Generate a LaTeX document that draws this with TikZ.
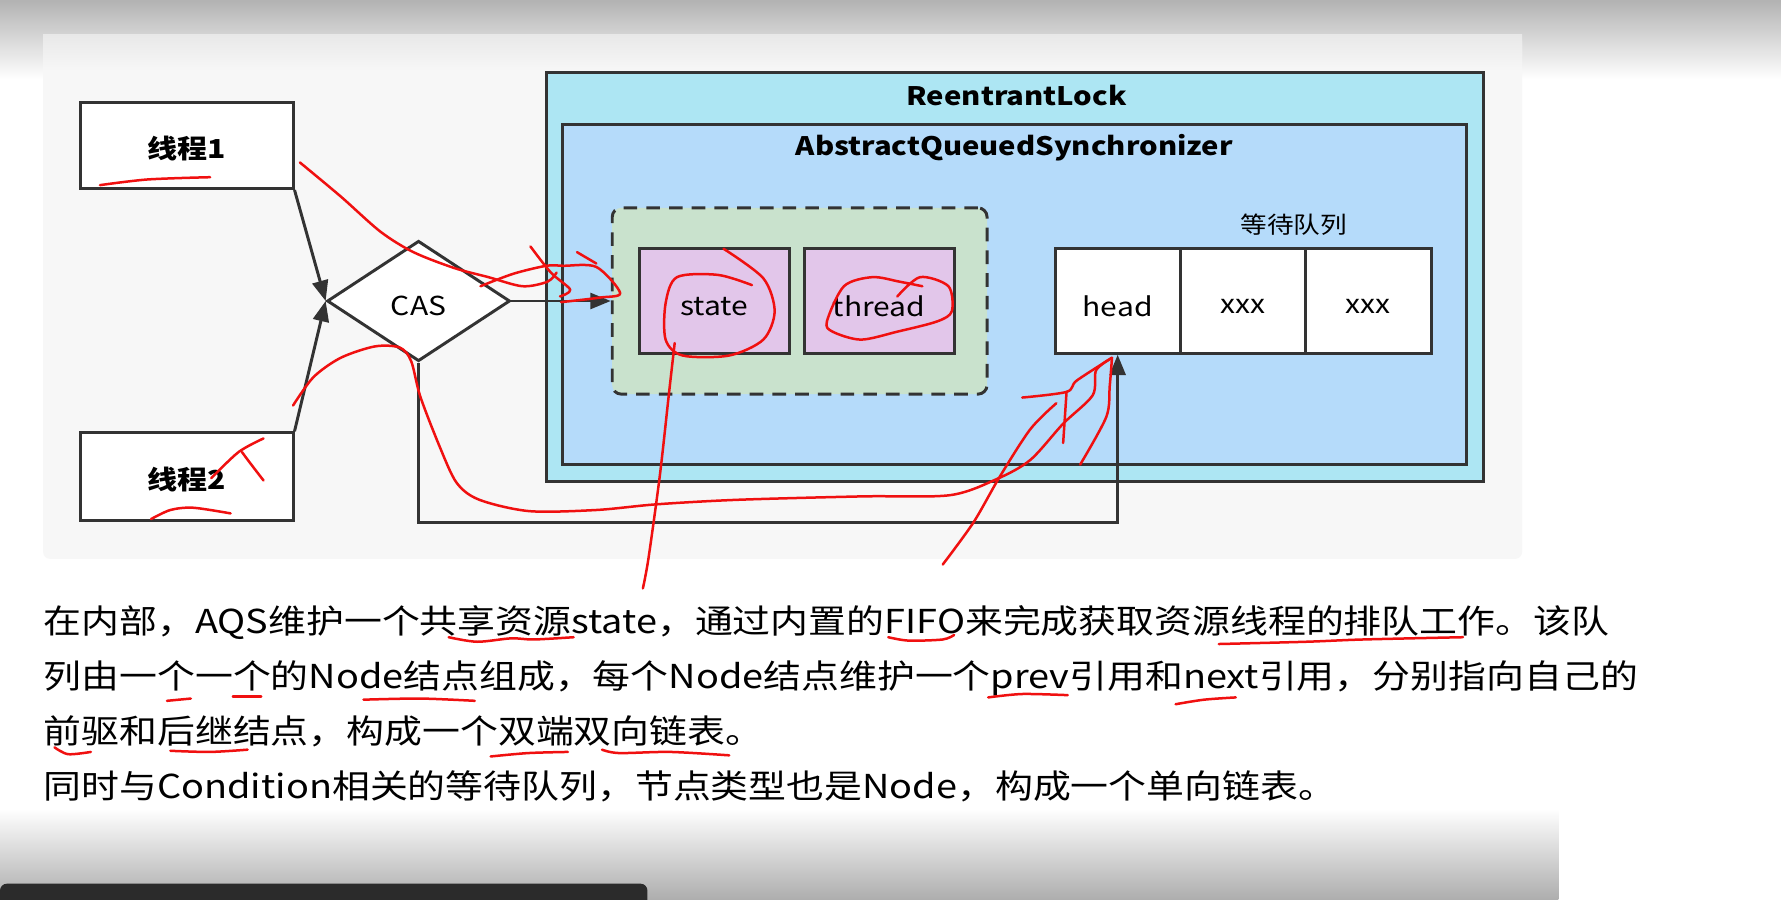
\documentclass[tikz,border=0pt]{standalone}
\usepackage{fontspec}
\setmainfont{Noto Sans CJK SC}[FakeStretch=1.15]
\usetikzlibrary{arrows.meta,shapes.geometric}
\definecolor{lineC}{HTML}{333333}
\definecolor{panelC}{HTML}{F7F7F7}
\definecolor{rlC}{HTML}{ADE6F3}
\definecolor{aqsC}{HTML}{B5DBFA}
\definecolor{grnC}{HTML}{C9E2CD}
\definecolor{purC}{HTML}{E2C6EA}
\definecolor{penC}{HTML}{F01010}
\definecolor{barC}{HTML}{2B2B2B}
\newcommand\fTitle{\bfseries\fontsize{11.2}{13}\selectfont}
\newcommand\fThr{\bfseries\fontsize{11.5}{14}\selectfont}
\newcommand\fLabel{\fontsize{11.5}{14}\selectfont}
\newcommand\fQ{\fontsize{10.2}{12}\selectfont}
\newcommand\fBody{\fontsize{14.5}{17}\selectfont}
\newcommand\lw[2]{\raisebox{-#1}[\height][\depth]{#2}}
\tikzset{
  boxline/.style={draw=lineC, line width=1.3pt},
  whitebox/.style={boxline, fill=white, inner sep=0pt},
  conn/.style={draw=lineC, line width=1.3pt, -{Triangle[length=9pt,width=7pt]}},
  redpen/.style={draw=penC, line width=1.1pt, line cap=round, line join=round},
  bodyline/.style={anchor=base west, inner sep=0pt, font=\fBody, text=black}
}
\begin{document}
\begin{tikzpicture}[x=0.5pt,y=-0.5pt]
\useasboundingbox (0,0) rectangle (1568,792);
\fill[white] (0,0) rectangle (1568,792);
\shade[top color=black!30, bottom color=white] (0,0) rectangle (1568,70);
\fill[panelC, rounded corners=3pt] (38,30) rectangle (1340,492);
\shade[top color=white!91!black, bottom color=panelC] (38,30) rectangle (1340,62);
\shade[top color=white, bottom color=black!32] (0,712) rectangle (1372,792);
\fill[barC, rounded corners=3pt] (0,778) rectangle (570,800);

% containers
\node[boxline, fill=rlC, minimum width=412.5pt, minimum height=180pt, inner sep=0pt] (rl) at (893.5,244) {};
\node[font=\fTitle] (rlt) at (895,84) {ReentrantLock};
\node[boxline, fill=aqsC, minimum width=398pt, minimum height=149.5pt, inner sep=0pt] (aqs) at (893,259.5) {};
\node[font=\fTitle] (aqst) at (893,130) {AbstractQueuedSynchronizer};
\node[boxline, dashed, dash pattern=on 6pt off 4pt, fill=grnC, rounded corners=4pt, minimum width=165pt, minimum height=82pt, inner sep=0pt] (grp) at (704,265) {};
\node[boxline, fill=purC, minimum width=66pt, minimum height=46pt, inner sep=0pt, font=\fLabel] (state) at (629,265) {\lw{2.5pt}{state}};
\node[boxline, fill=purC, minimum width=66pt, minimum height=46pt, inner sep=0pt, font=\fLabel] (thread) at (774,265) {\lw{2.5pt}{thread}};
\node[font=\fQ] (ql) at (1139,198) {等待队列};
\node[whitebox, minimum width=55pt, minimum height=46pt, font=\fLabel] (head) at (984,265) {\lw{2.5pt}{head}};
\node[whitebox, minimum width=55pt, minimum height=46pt, font=\fLabel] (x1) at (1094,265) {\lw{2.5pt}{xxx}};
\node[whitebox, minimum width=55.5pt, minimum height=46pt, font=\fLabel] (x2) at (1204.5,265) {\lw{2.5pt}{xxx}};

% threads and CAS
\node[whitebox, minimum width=93.5pt, minimum height=38pt, font=\fThr] (t1) at (164.5,128) {\lw{1.5pt}{线程1}};
\node[whitebox, minimum width=93.5pt, minimum height=38.5pt, font=\fThr] (t2) at (164.5,419.5) {\lw{1.5pt}{线程2}};
\node[diamond, aspect=1.5, boxline, fill=white, minimum width=80.5pt, minimum height=53pt, inner sep=0pt, font=\fLabel] (cas) at (368.5,265) {\lw{2pt}{CAS}};

\draw[conn] (t1.south east) -- (cas.west);
\draw[conn] (t2.north east) -- (cas.west);
\draw[conn] (cas.east) -- (grp.west);
\coordinate (bend) at (368.5,460);
\draw[conn] (cas.south) -- (bend) -| (head.south);

% text
\node[bodyline] (l1) at (38,558) {在内部，AQS维护一个共享资源state，通过内置的FIFO来完成获取资源线程的排队工作。该队};
\node[bodyline] (l2) at (38,606.5) {列由一个一个的Node结点组成，每个Node结点维护一个prev引用和next引用，分别指向自己的};
\node[bodyline] (l3) at (38,655) {前驱和后继结点，构成一个双端双向链表。};
\node[bodyline] (l4) at (38,703) {同时与Condition相关的等待队列，节点类型也是Node，构成一个单向链表。};

% red pen annotations
\draw[redpen] plot[smooth] coordinates {(88,163) (130,158) (185,156)};
\draw[redpen] plot[smooth] coordinates {(133,457) (150,449) (170,447) (203,452)};
\draw[redpen] plot[smooth] coordinates {(186,421) (210,398) (232,386)};
\draw[redpen] plot[smooth] coordinates {(213,398) (222,410) (232,423)};
\draw[redpen] plot[smooth] coordinates {(264,143) (300,173) (335,204) (364,222) (400,236) (430,244) (460,252) (482,248) (490,240)};
\draw[redpen] plot[smooth] coordinates {(423,252) (452,241) (481,234) (496,234) (525,235) (546,258) (528,262) (494,266)};
\draw[redpen] plot[smooth] coordinates {(467,217) (485,240) (502,255) (493,261)};
\draw[redpen] plot[smooth] coordinates {(508,222) (525,232)};
\draw[redpen] plot[smooth] coordinates {(258,357) (276,332) (300,315) (330,305) (352,306) (362,318) (370,349) (387,393) (402,425) (422,440) (466,450) (525,449) (578,444) (650,440) (760,437) (836,436) (877,422) (907,405) (936,373) (962,348) (965,326) (979,315)};
\draw[redpen] plot[smooth] coordinates {(830,497) (857,460) (880,420) (907,378) (930,355)};
\draw[redpen] plot[smooth] coordinates {(900,350) (939,345) (948,335) (979,315)};
\draw[redpen] (939,345) -- (936,390);
\draw[redpen] plot[smooth] coordinates {(979,315) (977,340) (974,367) (951,409)};
\draw[redpen] plot[smooth] coordinates {(662,251) (632,242) (596,244) (586,267) (586,299) (601,313) (642,313) (672,299) (682,274) (672,245) (637,219)};
\draw[redpen] plot[smooth] coordinates {(594,302) (589,346) (581,418) (571,491) (566,518)};
\draw[redpen] plot[smooth] coordinates {(790,261) (810,244) (835,252) (838,274) (825,283) (790,292) (758,299) (733,292) (728,283) (743,252) (768,244) (792,248) (812,252)};
% underlines
\draw[redpen] plot[smooth] coordinates {(395,561) (420,565) (450,562) (470,563) (505,561)};
\draw[redpen] plot[smooth] coordinates {(782,561) (800,564) (830,563) (840,559)};
\draw[redpen] plot[smooth] coordinates {(1073,567) (1150,565) (1200,563) (1288,561)};
\draw[redpen] (147,617) -- (168,615);
\draw[redpen] (205,613) -- (230,613);
\draw[redpen] plot[smooth] coordinates {(320,616) (370,615) (418,617)};
\draw[redpen] plot[smooth] coordinates {(870,614) (900,611) (940,612)};
\draw[redpen] plot[smooth] coordinates {(1035,620) (1060,616) (1088,614)};
\draw[redpen] plot[smooth] coordinates {(48,658) (60,664) (80,662)};
\draw[redpen] plot[smooth] coordinates {(150,661) (185,662) (218,660)};
\draw[redpen] plot[smooth] coordinates {(432,666) (465,663) (500,662)};
\draw[redpen] plot[smooth] coordinates {(530,660) (545,663) (590,662) (642,665)};
\end{tikzpicture}
\end{document}
